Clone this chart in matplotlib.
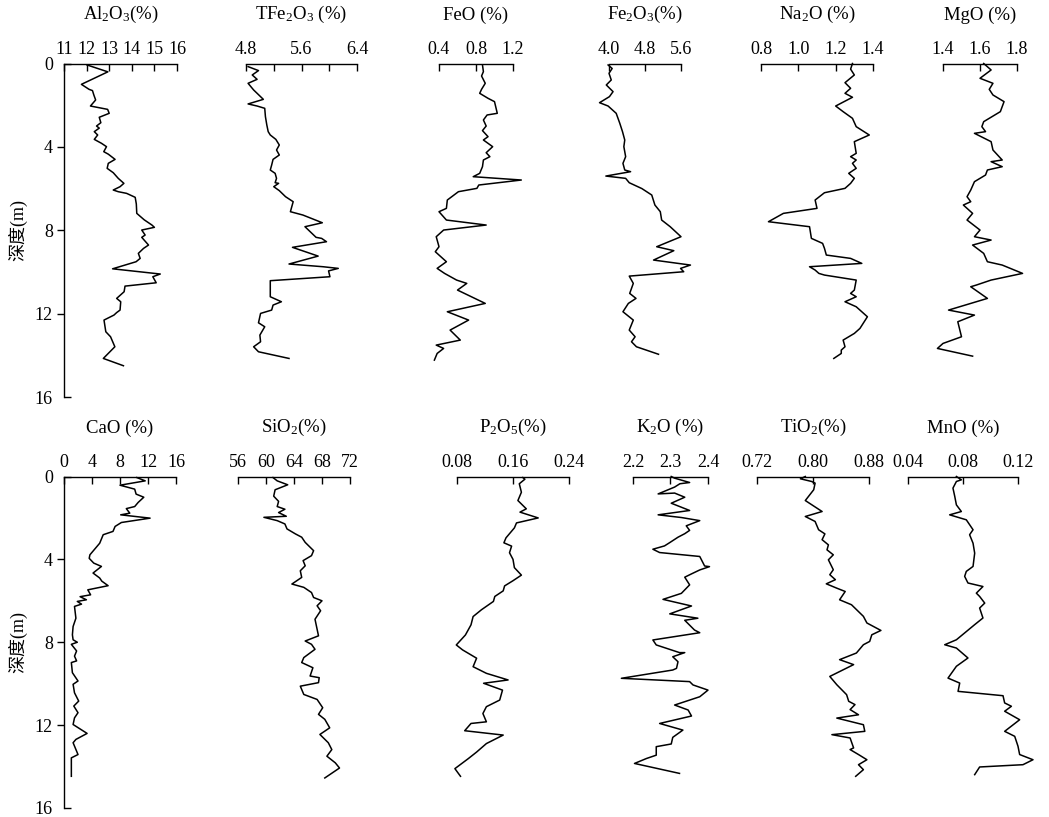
import numpy as np
import matplotlib
matplotlib.use("Agg")
import matplotlib.pyplot as plt
from matplotlib.ticker import FixedLocator, FixedFormatter

plt.rcParams['font.family'] = ['Liberation Serif', 'Noto Sans CJK SC']
plt.rcParams['mathtext.fontset'] = 'custom'
plt.rcParams['mathtext.rm'] = 'Liberation Serif'
plt.rcParams['mathtext.it'] = 'Liberation Serif:italic'

# ---------------- data (depth in m, content in %) ----------------
al2o3_depth = [0.07, 0.4, 1.0, 1.24, 1.3, 1.51, 1.75, 2.04, 2.2, 2.39, 2.58, 2.84, 3.0, 3.1, 3.27, 3.43,
               3.64, 3.83, 3.99, 4.23, 4.35, 4.6, 4.79, 5.03, 5.24, 5.51, 5.75, 5.91, 6.07, 6.15, 6.23,
               6.42, 6.74, 7.19, 7.5, 7.75, 7.86, 7.99, 8.23, 8.34, 8.71, 8.87, 9.11, 9.35, 9.51, 9.85,
               10.1, 10.23, 10.52, 10.68, 10.95, 11.27, 11.43, 11.83, 11.95, 12.07, 12.31, 12.87,
               13.11, 13.59, 14.15, 14.5]
al2o3 = [12.02, 12.94, 11.77, 12.11, 12.26, 12.32, 12.4, 12.17, 12.93, 13.0, 12.56, 12.63, 12.44, 12.56,
         12.34, 12.49, 12.34, 12.66, 12.88, 12.76, 12.96, 13.26, 12.96, 12.91, 13.18, 13.4, 13.65, 13.48,
         13.18, 13.4, 13.77, 14.15, 14.2, 14.22, 14.55, 14.89, 15.0, 14.44, 14.59, 14.44, 14.74, 14.52,
         14.29, 14.37, 14.19, 13.15, 15.26, 14.93, 15.08, 13.7, 13.66, 13.33, 13.51, 13.48, 13.33,
         13.21, 12.77, 12.85, 13.06, 13.25, 12.74, 13.63]

tfe2o3_depth = [0.15, 0.34, 0.55, 0.76, 0.95, 1.27, 1.43, 1.72, 1.94, 2.04, 2.15, 2.55, 2.95, 3.27, 3.43,
                3.64, 3.91, 4.15, 4.39, 4.6, 4.87, 5.11, 5.27, 5.51, 5.72, 5.75, 5.91, 6.1, 6.39, 6.63,
                7.11, 7.27, 7.64, 7.83, 8.34, 8.39, 8.55, 8.82, 9.24, 9.62, 9.75, 9.83, 9.95, 10.23,
                10.42, 11.19, 11.43, 11.59, 11.83, 11.99, 12.44, 12.63, 13.03, 13.35, 13.59, 13.83, 14.15]
tfe2o3 = [4.83, 4.98, 4.89, 4.96, 4.83, 4.91, 4.96, 5.05, 4.83, 4.96, 5.07, 5.08, 5.1, 5.12, 5.15,
          5.23, 5.28, 5.24, 5.28, 5.19, 5.17, 5.15, 5.22, 5.24, 5.22, 5.27, 5.2, 5.28, 5.37, 5.48,
          5.44, 5.62, 5.9, 5.65, 5.81, 5.89, 5.96, 5.47, 5.84, 5.42, 5.91, 6.13, 5.99, 6.01,
          5.15, 5.15, 5.31, 5.19, 5.17, 5.01, 4.98, 5.07, 5.0, 5.01, 4.91, 4.98, 5.42]

feo_depth = [0.07, 0.39, 0.6, 0.95, 1.24, 1.43, 1.67, 1.83, 2.39, 2.47, 2.71, 3.0, 3.22, 3.51, 3.67,
             3.99, 4.28, 4.47, 4.63, 4.95, 5.27, 5.43, 5.59, 5.83, 5.99, 6.15, 6.55, 6.95, 7.11, 7.51,
             7.75, 7.99, 8.31, 8.79, 9.03, 9.51, 9.83, 10.07, 10.39, 10.55, 10.87, 11.51, 11.91,
             12.31, 12.79, 13.27, 13.51, 13.67, 13.91, 14.23]
feo = [0.87, 0.88, 0.86, 0.9, 0.86, 0.84, 0.93, 1.0, 1.03, 0.92, 0.88, 0.91, 0.87, 0.93, 0.88,
       0.98, 0.91, 0.95, 0.88, 0.87, 0.84, 0.77, 1.29, 0.83, 0.81, 0.61, 0.49, 0.48, 0.40, 0.48,
       0.91, 0.45, 0.37, 0.40, 0.36, 0.48, 0.38, 0.46, 0.59, 0.70, 0.60, 0.90, 0.49,
       0.72, 0.52, 0.63, 0.37, 0.45, 0.38, 0.35]

fe2o3_depth = [0.07, 0.24, 0.47, 0.79, 1.03, 1.35, 1.59, 1.88, 2.04, 2.39, 2.87, 3.27, 3.67, 3.99, 4.47,
               4.79, 5.11, 5.19, 5.4, 5.51, 5.72, 6.0, 6.31, 6.79, 7.11, 7.51, 7.83, 8.31, 8.79, 8.98,
               9.43, 9.67, 9.83, 9.99, 10.2, 10.55, 11.03, 11.27, 11.51, 11.91, 12.31, 12.79, 13.11,
               13.35, 13.59, 13.95]
fe2o3 = [3.98, 4.07, 4.0, 4.05, 3.94, 4.09, 4.01, 3.79, 3.98, 4.16, 4.24, 4.3, 4.35, 4.33, 4.37,
         4.31, 4.35, 4.48, 3.93, 4.37, 4.45, 4.73, 4.95, 5.02, 5.14, 5.17, 5.36, 5.6, 5.06, 5.44,
         4.99, 5.81, 5.59, 5.66, 4.45, 4.54, 4.46, 4.6, 4.43, 4.31, 4.54, 4.45, 4.58,
         4.5, 4.61, 5.1]

na2o_depth = [0.0, 0.27, 0.55, 0.92, 1.19, 1.43, 1.62, 2.04, 2.31, 2.63, 3.03, 3.43, 3.75, 4.31, 4.47,
              4.63, 4.79, 5.03, 5.27, 5.51, 5.75, 5.99, 6.2, 6.55, 6.95, 7.19, 7.59, 7.83, 8.39, 8.63,
              8.87, 9.19, 9.35, 9.59, 9.75, 9.91, 10.07, 10.15, 10.39, 10.87, 11.03, 11.19, 11.43,
              11.67, 12.15, 12.71, 12.95, 13.27, 13.59, 13.75, 13.91, 14.15]
na2o = [1.29, 1.28, 1.30, 1.25, 1.28, 1.25, 1.29, 1.2, 1.24, 1.29, 1.31, 1.38, 1.30, 1.31, 1.28,
        1.31, 1.29, 1.31, 1.27, 1.3, 1.28, 1.25, 1.14, 1.09, 1.1, 0.92, 0.84, 1.06, 1.07, 1.13,
        1.14, 1.15, 1.28, 1.34, 1.06, 1.09, 1.11, 1.14, 1.31, 1.30, 1.28, 1.31, 1.25,
        1.31, 1.37, 1.33, 1.30, 1.24, 1.25, 1.23, 1.23, 1.19]

mgo_depth = [0.0, 0.31, 0.71, 0.95, 1.24, 1.51, 1.83, 2.31, 2.79, 3.03, 3.27, 3.35, 3.75, 4.15, 4.63,
             4.71, 4.95, 5.11, 5.35, 5.67, 6.07, 6.39, 6.63, 6.79, 7.19, 7.51, 7.99, 8.31, 8.47, 8.71,
             9.11, 9.51, 9.67, 10.07, 10.39, 10.63, 10.71, 11.27, 11.83, 12.07, 12.39, 13.11, 13.43,
             13.67, 14.04]
mgo = [1.62, 1.66, 1.60, 1.67, 1.65, 1.67, 1.73, 1.71, 1.62, 1.61, 1.63, 1.57, 1.66, 1.67, 1.72,
       1.66, 1.72, 1.64, 1.63, 1.57, 1.55, 1.53, 1.55, 1.51, 1.56, 1.53, 1.60, 1.57, 1.66, 1.56,
       1.62, 1.64, 1.72, 1.83, 1.66, 1.58, 1.55, 1.64, 1.43, 1.57, 1.48, 1.50, 1.40,
       1.37, 1.56]

cao_depth = [0.05, 0.21, 0.42, 0.61, 0.85, 1.0, 1.25, 1.45, 1.55, 1.77, 1.85, 2.01, 2.22, 2.41, 2.65,
             2.81, 3.22, 3.46, 3.78, 3.95, 4.18, 4.34, 4.66, 4.9, 5.05, 5.27, 5.47, 5.71, 5.8, 5.95,
             6.03, 6.16, 6.27, 6.84, 7.24, 7.64, 7.88, 8.0, 8.1, 8.42, 8.67, 8.9, 8.98, 9.47, 9.87,
             10.03, 10.44, 10.84, 11.08, 11.4, 11.65, 11.97, 12.4, 12.69, 12.85, 13.42, 13.58, 14.47]
cao = [10.4, 11.6, 8.0, 10.1, 10.3, 11.4, 10.6, 10.1, 8.9, 9.4, 8.1, 12.3, 8.2, 7.3, 7.0,
       5.6, 5.1, 4.5, 3.7, 3.6, 4.25, 5.35, 4.15, 5.1, 5.4, 6.3, 3.4, 3.8, 2.3, 3.2,
       1.9, 2.5, 1.5, 1.7, 1.3, 1.2, 1.3, 1.9, 1.05, 1.8, 1.5, 1.8, 1.05, 1.2, 2.0,
       1.3, 1.5, 2.1, 1.4, 2.0, 1.5, 1.3, 3.3, 1.7, 1.3, 2.0, 1.05, 1.05]

sio2_depth = [0.05, 0.21, 0.4, 0.64, 0.95, 1.2, 1.45, 1.58, 1.74, 1.92, 1.97, 2.13, 2.29, 2.53, 2.77,
              2.93, 3.18, 3.58, 3.82, 4.06, 4.31, 4.55, 4.87, 5.19, 5.35, 5.6, 5.84, 6.0, 6.24, 6.48,
              6.89, 7.37, 7.69, 7.94, 8.1, 8.34, 8.74, 8.98, 9.23, 9.63, 9.71, 9.95, 10.12, 10.52,
              10.76, 11.16, 11.48, 11.72, 12.13, 12.45, 12.85, 13.18, 13.5, 13.82, 14.07, 14.55]
sio2 = [61.0, 61.6, 63.1, 61.3, 61.1, 61.8, 61.6, 62.7, 61.8, 62.9, 59.7, 61.6, 62.7, 63.0, 64.2,
        65.1, 65.6, 66.8, 66.5, 65.3, 65.6, 64.9, 65.1, 63.7, 65.4, 66.5, 66.8, 68.0, 67.3, 67.8,
        67.0, 67.3, 67.5, 65.6, 66.5, 67.0, 65.4, 65.1, 66.7, 66.3, 67.6, 67.5, 64.9, 65.4,
        67.3, 68.1, 67.5, 68.4, 69.1, 67.7, 68.9, 69.4, 68.7, 69.9, 70.5, 68.4]

p2o5_depth = [0.05, 0.13, 0.35, 0.76, 1.16, 1.56, 1.72, 2.0, 2.24, 2.48, 2.96, 3.2, 3.36, 3.68, 4.0,
              4.4, 4.76, 5.03, 5.28, 5.52, 5.79, 6.03, 6.43, 6.76, 7.16, 7.65, 8.13, 8.37, 8.77,
              9.18, 9.5, 9.82, 9.98, 10.31, 10.79, 11.11, 11.44, 11.84, 11.92, 12.27, 12.48,
              12.89, 13.3, 13.62, 14.1, 14.47]
p2o5 = [0.174, 0.177, 0.169, 0.172, 0.167, 0.179, 0.170, 0.196, 0.165, 0.162, 0.150, 0.147, 0.158,
        0.155, 0.160, 0.162, 0.172, 0.160, 0.148, 0.146, 0.134, 0.132, 0.115, 0.103, 0.100, 0.092,
        0.079, 0.088, 0.108, 0.103, 0.122, 0.153, 0.118, 0.145, 0.141, 0.122, 0.117, 0.122,
        0.100, 0.091, 0.146, 0.122, 0.108, 0.096, 0.077, 0.085]

k2o_depth = [0.0, 0.08, 0.29, 0.35, 0.51, 0.84, 0.8, 1.0, 1.29, 1.64, 1.85, 1.98, 2.13, 2.38, 2.6,
             2.76, 2.93, 3.19, 3.35, 3.51, 3.67, 3.86, 4.32, 4.35, 4.51, 4.7, 4.86, 5.23, 5.64, 5.93,
             6.25, 6.63, 6.84, 6.94, 7.41, 7.54, 7.89, 8.13, 8.5, 8.5, 8.7, 8.94, 9.26, 9.34, 9.74,
             9.9, 10.06, 10.31, 10.63, 11.03, 11.27, 11.56, 11.92, 12.24, 12.59, 12.91, 13.04,
             13.45, 13.61, 13.85, 14.33]
k2o = [2.302, 2.311, 2.351, 2.325, 2.311, 2.267, 2.311, 2.338, 2.302, 2.351, 2.267, 2.329, 2.378,
       2.342, 2.351, 2.338, 2.320, 2.298, 2.284, 2.253, 2.271, 2.378, 2.391, 2.404, 2.378, 2.356,
       2.338, 2.351, 2.329, 2.280, 2.356, 2.298, 2.373, 2.338, 2.364, 2.378, 2.253, 2.262, 2.324,
       2.338, 2.306, 2.320, 2.316, 2.306, 2.169, 2.351, 2.360, 2.400, 2.378, 2.311, 2.347, 2.356,
       2.271, 2.333, 2.306, 2.302, 2.262, 2.262, 2.236, 2.204, 2.324]

tio2_depth = [0.0, 0.11, 0.24, 0.32, 0.64, 1.16, 1.69, 1.93, 2.17, 2.57, 2.77, 3.05, 3.3, 3.54, 3.78,
              4.02, 4.5, 4.74, 4.98, 5.18, 5.39, 5.55, 5.95, 6.19, 6.75, 7.07, 7.43, 7.64, 7.96, 8.12,
              8.52, 8.84, 9.08, 9.65, 10.05, 10.29, 10.53, 10.85, 11.01, 11.25, 11.5, 11.66, 11.98,
              12.3, 12.46, 12.62, 13.1, 13.18, 13.42, 13.67, 13.91, 14.15, 14.47]
tio2 = [0.789, 0.782, 0.798, 0.803, 0.801, 0.789, 0.813, 0.789, 0.803, 0.808, 0.817, 0.813, 0.822,
        0.820, 0.829, 0.822, 0.829, 0.824, 0.832, 0.819, 0.834, 0.846, 0.838, 0.855, 0.872, 0.877,
        0.897, 0.884, 0.881, 0.872, 0.862, 0.838, 0.858, 0.824, 0.834, 0.841, 0.848, 0.851, 0.860,
        0.853, 0.865, 0.834, 0.872, 0.874, 0.827, 0.853, 0.858, 0.853, 0.865, 0.877, 0.865, 0.872,
        0.861]

mno_depth = [0.0, 0.16, 0.24, 0.56, 0.96, 1.37, 1.69, 1.85, 2.09, 2.57, 2.81, 3.22, 3.7, 4.34, 4.58,
             4.82, 5.14, 5.31, 5.63, 5.79, 6.11, 6.35, 6.83, 7.15, 7.88, 8.12, 8.28, 8.76, 9.16,
             9.73, 9.97, 10.37, 10.58, 10.93, 11.09, 11.33, 11.74, 12.3, 12.54, 13.02, 13.42,
             13.67, 13.91, 14.02, 14.39]
mno = [0.0752, 0.0788, 0.0752, 0.0727, 0.0740, 0.0752, 0.0788, 0.0703, 0.0824, 0.0873, 0.0848,
       0.0873, 0.0885, 0.0873, 0.0824, 0.0812, 0.0836, 0.0945, 0.0897, 0.0921, 0.0958, 0.0921,
       0.0945, 0.0885, 0.0752, 0.0667, 0.0752, 0.0836, 0.0752, 0.0691, 0.0776, 0.0764, 0.1091,
       0.1103, 0.1152, 0.1103, 0.1212, 0.1103, 0.1176, 0.1200, 0.1212, 0.1309, 0.1236, 0.0921,
       0.0885]

# ---------------- layout ----------------
W, H = 1049, 817
fig = plt.figure(figsize=(W / 100, H / 100), dpi=100)

rows = [
    # (y of depth 0, y of depth 16) in pixels
    (63.5, 397.0),
    (476.5, 808.0),
]

panels = [
    # row, x0, x1, title, depth, values, xmin, xmax, major ticks, labels, minor ticks
    (0, 64, 177, r'Al$_{\mathrm{2}}$O$_{\mathrm{3}}$(%)', al2o3_depth, al2o3, 11, 16,
     [11, 12, 13, 14, 15, 16], ['11', '12', '13', '14', '15', '16'], []),
    (0, 246, 357, r'TFe$_{\mathrm{2}}$O$_{\mathrm{3}}$ (%)', tfe2o3_depth, tfe2o3, 4.8, 6.4,
     [4.8, 5.6, 6.4], ['4.8', '5.6', '6.4'], [5.2, 6.0]),
    (0, 439, 513, 'FeO (%)', feo_depth, feo, 0.4, 1.2,
     [0.4, 0.8, 1.2], ['0.4', '0.8', '1.2'], []),
    (0, 609, 681, r'Fe$_{\mathrm{2}}$O$_{\mathrm{3}}$(%)', fe2o3_depth, fe2o3, 4.0, 5.6,
     [4.0, 4.8, 5.6], ['4.0', '4.8', '5.6'], []),
    (0, 761, 873, r'Na$_{\mathrm{2}}$O (%)', na2o_depth, na2o, 0.8, 1.4,
     [0.8, 1.0, 1.2, 1.4], ['0.8', '1.0', '1.2', '1.4'], []),
    (0, 943, 1017, 'MgO (%)', mgo_depth, mgo, 1.4, 1.8,
     [1.4, 1.6, 1.8], ['1.4', '1.6', '1.8'], []),
    (1, 64, 176, 'CaO (%)', cao_depth, cao, 0, 16,
     [0, 4, 8, 12, 16], ['0', '4', '8', '12', '16'], []),
    (1, 238, 350, r'SiO$_{\mathrm{2}}$(%)', sio2_depth, sio2, 56, 72,
     [56, 60, 64, 68, 72], ['56', '60', '64', '68', '72'], []),
    (1, 457, 569, r'P$_{\mathrm{2}}$O$_{\mathrm{5}}$(%)', p2o5_depth, p2o5, 0.08, 0.24,
     [0.08, 0.16, 0.24], ['0.08', '0.16', '0.24'], []),
    (1, 633, 708, r'K$_{\mathrm{2}}$O (%)', k2o_depth, k2o, 2.2, 2.4,
     [2.2, 2.3, 2.4], ['2.2', '2.3', '2.4'], []),
    (1, 757, 869, r'TiO$_{\mathrm{2}}$(%)', tio2_depth, tio2, 0.72, 0.88,
     [0.72, 0.80, 0.88], ['0.72', '0.80', '0.88'], []),
    (1, 908, 1018, 'MnO (%)', mno_depth, mno, 0.04, 0.12,
     [0.04, 0.08, 0.12], ['0.04', '0.08', '0.12'], []),
]

for row, x0, x1, title, depth, vals, xmin, xmax, ticks, labels, minor in panels:
    y0, y16 = rows[row]
    ax = fig.add_axes([x0 / W, 1 - y16 / H, (x1 - x0) / W, (y16 - y0) / H])
    ax.patch.set_visible(False)
    ax.plot(vals, depth, color='black', lw=1.1, clip_on=False)
    ax.set_xlim(xmin, xmax)
    ax.set_ylim(16, 0)

    for s in ['right', 'bottom']:
        ax.spines[s].set_visible(False)
    ax.spines['top'].set_linewidth(1.0)
    ax.spines['left'].set_linewidth(1.0)

    ax.xaxis.tick_top()
    ax.set_xticks(ticks)
    ax.set_xticklabels(labels)
    if minor:
        ax.xaxis.set_minor_locator(FixedLocator(minor))
    ax.tick_params(axis='x', which='both', direction='in', length=5, width=1.0,
                   labelsize=13, pad=4)

    first = x0 < 100
    if first:
        ax.set_yticks([4, 8, 12])
        ax.set_yticklabels(['4', '8', '12'])
        ax.yaxis.set_minor_locator(FixedLocator([0, 16]))
        ax.yaxis.set_minor_formatter(FixedFormatter(['0', '16']))
        ax.tick_params(axis='y', which='major', direction='out', length=5, width=1.0,
                       labelsize=13, pad=3)
        ax.tick_params(axis='y', which='minor', direction='in', length=5, width=1.0,
                       labelsize=13, pad=8)
        ax.text(18 / W, 1 - (y0 + y16) / 2 / H, '深度(m)', transform=fig.transFigure,
                rotation=90, ha='center', va='center', fontsize=13)
    else:
        ax.spines['left'].set_visible(False)
        ax.set_yticks([])

    ax.annotate(title, xy=(0.5, 1), xycoords='axes fraction', xytext=(0, 35),
                textcoords='offset points', ha='center', va='center', fontsize=13.5)

fig.savefig('out.png', dpi=100)
